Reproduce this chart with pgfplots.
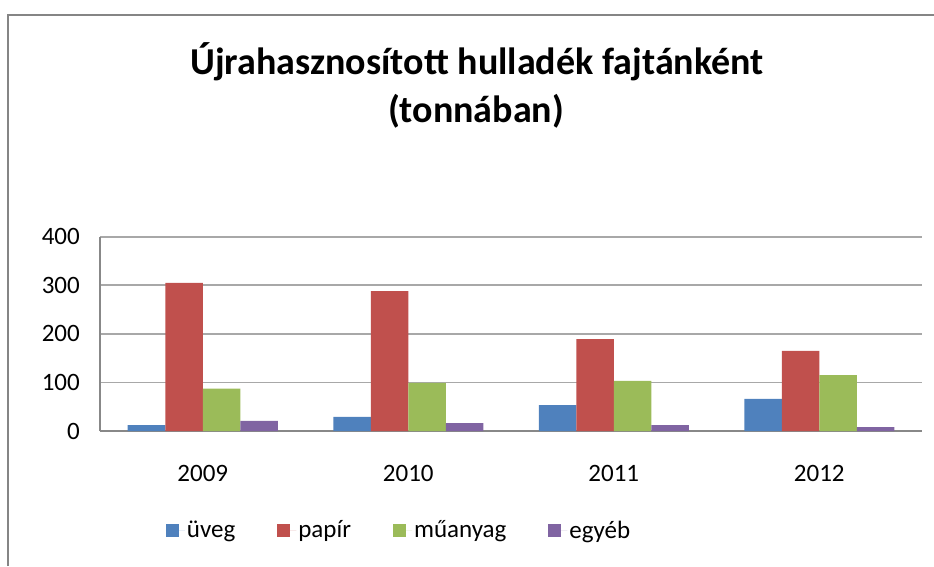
\documentclass[border=0pt]{standalone}
\usepackage{fontspec}
\setmainfont{Carlito}
\usepackage{pgfplots}
\pgfplotsset{compat=1.18}
\definecolor{cuveg}{HTML}{4F81BD}
\definecolor{cpapir}{HTML}{C0504D}
\definecolor{cmuanyag}{HTML}{9BBB59}
\definecolor{cegyeb}{HTML}{8064A2}
\definecolor{gridgray}{HTML}{A8A8A8}
\definecolor{axisgray}{HTML}{888888}
\definecolor{framegray}{HTML}{858585}

\begin{document}
\begin{tikzpicture}[x=1pt,y=1pt]
% axis box lower-left corner is the origin; page is (-100,-135) to (834,431)
\begin{axis}[
  scale only axis, width=822pt, height=194.3pt,
  xmin=-0.5, xmax=3.5, ymin=0, ymax=400,
  ybar=0pt, bar width=37.5pt,
  xtick={0,1,2,3}, xticklabels={2009,2010,2011,2012},
  ytick={0,100,200,300,400},
  ymajorgrids, major grid style={draw=gridgray, line width=1.6pt},
  axis x line*=bottom, axis y line*=left,
  axis line style={draw=axisgray, line width=1.5pt},
  major tick length=0pt,
  tick label style={font=\fontsize{25}{29}\selectfont},
  /pgf/number format/assume math mode=true,
  yticklabel style={inner sep=0pt, xshift=-20pt},
  xticklabel style={inner sep=0pt, yshift=-34pt},
  legend columns=4,
  legend style={at={(axis description cs:0.080,-0.51)}, anchor=west,
    draw=none, fill=none, inner sep=0pt,
    font=\fontsize{25}{29}\selectfont,
    /tikz/every even column/.append style={column sep=40pt}},
  legend image code/.code={\fill[#1] (0pt,-6.5pt) rectangle (13pt,6.5pt);
    \path (0pt,0pt) -- (19pt,0pt);},
]
\addplot[fill=cuveg, draw=none] coordinates {(0,12) (1,29) (2,53.5) (3,66)};
\addplot[fill=cpapir, draw=none] coordinates {(0,305) (1,288) (2,189) (3,165)};
\addplot[fill=cmuanyag, draw=none] coordinates {(0,87) (1,99) (2,103) (3,115)};
\addplot[fill=cegyeb, draw=none] coordinates {(0,21) (1,16) (2,12) (3,8)};
\legend{üveg,papír,műanyag,egyéb}
\end{axis}
% title
\node[anchor=base, font=\bfseries\fontsize{38}{44}\selectfont] at (377,357) {Újrahasznosított hulladék fajtánként};
\node[anchor=base, font=\bfseries\fontsize{38}{44}\selectfont] at (376,309) {(tonnában)};
% chart frame (cut off at right and bottom)
\draw[framegray, line width=1.5pt] (-92,-135) -- (-92,416) -- (834,416);
\pgfresetboundingbox
\useasboundingbox (-100,-135) rectangle (834,431);
\end{tikzpicture}
\end{document}
